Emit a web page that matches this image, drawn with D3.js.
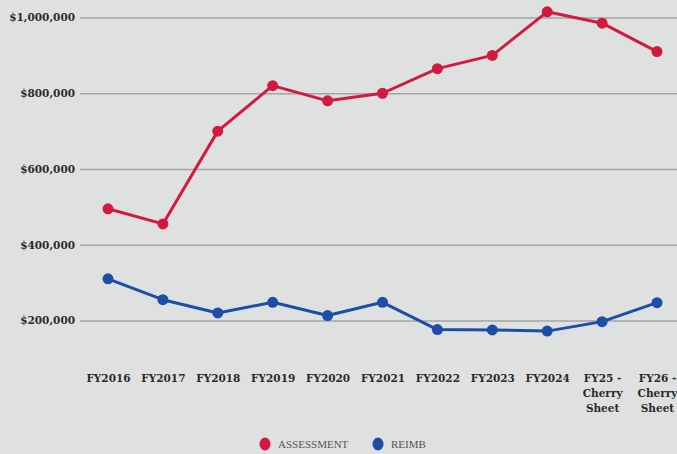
<!DOCTYPE html>
<html>
<head>
<meta charset="utf-8">
<script src="https://cdn.jsdelivr.net/npm/d3@7"></script>
<style>
  html, body { margin: 0; padding: 0; background: #dfe1e0; }
  svg { display: block; }
</style>
</head>
<body>
<svg id="chart" width="677" height="454"></svg>
<script>
const categories = ["FY2016", "FY2017", "FY2018", "FY2019", "FY2020", "FY2021", "FY2022", "FY2023", "FY2024", "FY25 -|Cherry|Sheet", "FY26 -|Cherry|Sheet"];
const assessment = [495000, 455000, 700000, 820000, 780000, 800000, 865000, 900000, 1015000, 985000, 910000];
const reimb = [310000, 255000, 220000, 248000, 213000, 248000, 176000, 175000, 172000, 197000, 247000];
const yTicks = [200000, 400000, 600000, 800000, 1000000];
const seriesNames = ["ASSESSMENT", "REIMB"];
const seriesColors = ["#d11a40", "#1d4ea6"];

const svg = d3.select("#chart");
const W = 677, H = 454;
svg.append("rect").attr("width", W).attr("height", H).attr("fill", "#dfe1e0");

const x = d3.scalePoint().domain(categories).range([108, 657]);
const y = d3.scaleLinear().domain([200000, 1000000]).range([320.5, 17.5]);

// gridlines + y labels
const yAxis = d3.axisLeft(y).tickValues(yTicks).tickSize(-(W - 80)).tickPadding(5)
  .tickFormat(d => "$" + d3.format(",")(d));
const gy = svg.append("g").attr("transform", "translate(80,0)").call(yAxis);
gy.select(".domain").remove();
gy.selectAll(".tick line").attr("stroke", "#a3a5a4").attr("stroke-width", 1.5);
gy.selectAll(".tick text")
  .attr("fill", "#2a2a2a")
  .style("font-family", "'DejaVu Serif', serif")
  .style("font-weight", "bold")
  .style("font-size", "10.5px");

// x labels
const xAxis = d3.axisBottom(x).tickSize(0).tickFormat("");
const gx = svg.append("g").attr("transform", "translate(0,365)").call(xAxis);
gx.select(".domain").remove();
gx.selectAll(".tick").each(function(d) {
  const lines = d.split("|");
  const t = d3.select(this).append("text")
    .attr("text-anchor", "middle")
    .attr("fill", "#2a2a2a")
    .style("font-family", "'DejaVu Serif', serif")
    .style("font-weight", "bold")
    .style("font-size", "10.5px");
  lines.forEach((ln, i) => {
    t.append("tspan").attr("x", 0).attr("y", 17 + i * 15).text(ln);
  });
});

// series
const series = [assessment, reimb];
const line = d3.line().x((d, i) => x(categories[i])).y(d => y(d));
series.forEach((vals, si) => {
  svg.append("path").datum(vals)
    .attr("d", line)
    .attr("fill", "none")
    .attr("stroke", seriesColors[si])
    .attr("stroke-width", 3)
    .attr("stroke-linejoin", "round");
  svg.selectAll(".pt" + si).data(vals).enter().append("circle")
    .attr("cx", (d, i) => x(categories[i]))
    .attr("cy", d => y(d))
    .attr("r", 5.5)
    .attr("fill", seriesColors[si]);
});

// legend
const legendItems = [{x: 265}, {x: 378}];
seriesNames.forEach((name, i) => {
  const g = svg.append("g").attr("transform", `translate(${legendItems[i].x},444)`);
  g.append("ellipse").attr("rx", 5.5).attr("ry", 6.5).attr("fill", seriesColors[i]);
  g.append("text").attr("x", 13).attr("y", 4)
    .attr("fill", "#555")
    .style("font-family", "'Liberation Serif', serif")
    .style("font-size", "11px")
    .text(name);
});
</script>
</body>
</html>
